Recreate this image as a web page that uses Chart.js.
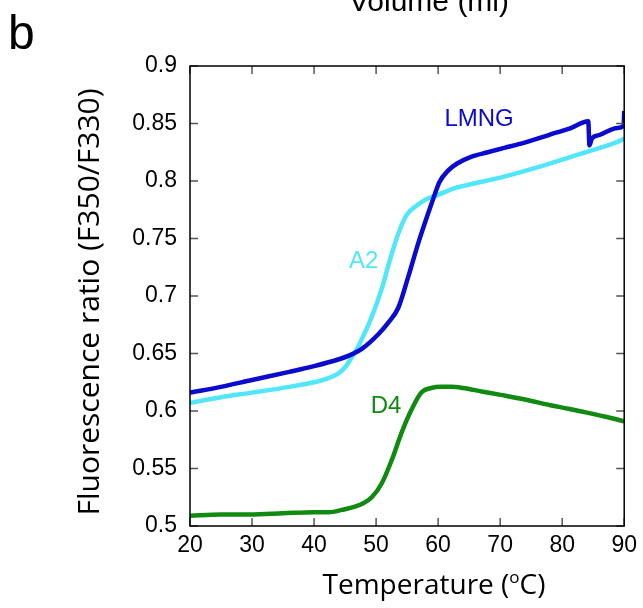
<!DOCTYPE html>
<html>
<head>
<meta charset="utf-8">
<script src="https://cdn.jsdelivr.net/npm/chart.js@4"></script>
<style>
  html, body { margin: 0; padding: 0; background: #fff; }
  canvas { display: block; }
</style>
</head>
<body>
<canvas id="grafico" width="643" height="608"></canvas>
<script>
// temperature (°C) and F350/F330 ratio
const lmngTemp = [20, 25, 30, 36, 40, 44, 46, 47.7, 50.4, 52, 53.6, 55.2, 56.8, 58.4, 59.5, 60.2, 61.6, 63, 65.3, 68, 70.8, 73, 76.1, 79, 81.4, 84.2, 84.4, 84.8, 86, 88.9, 89.9, 90];
const lmngRatio = [0.616, 0.621, 0.627, 0.634, 0.639, 0.645, 0.649, 0.654, 0.667, 0.677, 0.690, 0.717, 0.746, 0.772, 0.789, 0.799, 0.809, 0.815, 0.821, 0.825, 0.829, 0.832, 0.837, 0.842, 0.846, 0.852, 0.831, 0.837, 0.840, 0.846, 0.848, 0.861];

const a2Temp = [20, 25, 30, 36, 40, 42, 44, 45, 46, 47, 48, 49, 50, 51, 52, 53, 54, 55, 56.4, 58, 60, 62.8, 66, 70.8, 76.1, 81.4, 85, 88.9, 90];
const a2Ratio = [0.607, 0.612, 0.616, 0.621, 0.625, 0.628, 0.633, 0.638, 0.646, 0.655, 0.666, 0.678, 0.692, 0.708, 0.727, 0.745, 0.760, 0.771, 0.778, 0.784, 0.788, 0.794, 0.798, 0.804, 0.812, 0.821, 0.827, 0.834, 0.837];

const d4Temp = [20, 25, 29.6, 35, 40, 42.4, 44.5, 46.7, 48, 49.3, 50.9, 52.5, 54.1, 55.7, 57.3, 58.9, 60.5, 62.1, 64, 67, 70.1, 74, 78.1, 81, 83.6, 87, 90];
const d4Ratio = [0.509, 0.510, 0.510, 0.511, 0.512, 0.512, 0.514, 0.517, 0.520, 0.525, 0.537, 0.557, 0.581, 0.601, 0.616, 0.620, 0.621, 0.621, 0.620, 0.617, 0.614, 0.610, 0.605, 0.602, 0.599, 0.595, 0.591];

const seriesNames = ["LMNG", "A2", "D4"];
const seriesColors = ["#0a0ad0", "#52e6fa", "#118a11"];
// where each name is written, in data coordinates
const labelTemp = [66.6, 48.0, 51.6];
const labelRatio = [0.854, 0.730, 0.604];

const xTicks = [20, 30, 40, 50, 60, 70, 80, 90];
const yTicks = [0.5, 0.55, 0.6, 0.65, 0.7, 0.75, 0.8, 0.85, 0.9];

const pts = (t, v) => t.map((x, i) => ({ x: x, y: v[i] }));

// box, inward ticks and all the texts
const marco = {
  id: "marco",
  afterDraw(chart) {
    const { ctx, chartArea: a, scales: { x, y } } = chart;
    ctx.save();

    ctx.strokeStyle = "#555";
    ctx.lineWidth = 1.5;
    ctx.beginPath();
    xTicks.forEach(t => {
      const px = x.getPixelForValue(t);
      ctx.moveTo(px, a.bottom); ctx.lineTo(px, a.bottom - 8);
      ctx.moveTo(px, a.top); ctx.lineTo(px, a.top + 8);
    });
    yTicks.forEach(t => {
      const py = y.getPixelForValue(t);
      ctx.moveTo(a.left, py); ctx.lineTo(a.left + 8, py);
      ctx.moveTo(a.right, py); ctx.lineTo(a.right - 8, py);
    });
    ctx.stroke();

    ctx.strokeStyle = "#000";
    ctx.lineWidth = 1.5;
    ctx.strokeRect(a.left, a.top, a.right - a.left, a.bottom - a.top);

    // series names
    ctx.font = "24px 'Liberation Sans', Arial, sans-serif";
    ctx.textAlign = "center";
    ctx.textBaseline = "middle";
    seriesNames.forEach((n, i) => {
      ctx.fillStyle = seriesColors[i];
      ctx.fillText(n, x.getPixelForValue(labelTemp[i]), y.getPixelForValue(labelRatio[i]));
    });

    ctx.fillStyle = "#000";
    // panel letter
    ctx.textAlign = "left";
    ctx.textBaseline = "alphabetic";
    ctx.font = "48px 'Liberation Sans', Arial, sans-serif";
    ctx.fillText("b", 8, 49);

    // cut-off title of the panel above
    ctx.textAlign = "center";
    ctx.font = "30px 'Liberation Sans', Arial, sans-serif";
    ctx.fillText("Volume (ml)", 429, 11);

    // x title with raised o
    const big = "28px 'Open Sans', sans-serif", small = "17px 'Open Sans', sans-serif";
    ctx.textAlign = "left";
    const p1 = "Temperature (", p3 = "C)";
    ctx.font = big;
    const w1 = ctx.measureText(p1).width;
    const w3 = ctx.measureText(p3).width;
    ctx.font = small;
    const w2 = ctx.measureText("o").width;
    const sx = 434 - (w1 + w2 + w3) / 2;
    ctx.font = big;
    ctx.fillText(p1, sx, 594);
    ctx.font = small;
    ctx.fillText("o", sx + w1, 583);
    ctx.font = big;
    ctx.fillText(p3, sx + w1 + w2, 594);

    // y title
    ctx.translate(90, 302);
    ctx.rotate(-Math.PI / 2);
    ctx.textAlign = "center";
    ctx.textBaseline = "middle";
    ctx.font = "30px 'Open Sans', sans-serif";
    ctx.fillText("Fluorescence ratio (F350/F330)", 0, 0);

    ctx.restore();
  }
};

new Chart(document.getElementById("grafico"), {
  type: "line",
  data: {
    datasets: [
      { label: seriesNames[0], data: pts(lmngTemp, lmngRatio), borderColor: seriesColors[0] },
      { label: seriesNames[1], data: pts(a2Temp, a2Ratio), borderColor: seriesColors[1] },
      { label: seriesNames[2], data: pts(d4Temp, d4Ratio), borderColor: seriesColors[2] }
    ]
  },
  options: {
    responsive: false,
    animation: false,
    events: [],
    layout: { padding: { top: 66, right: 16, left: 0, bottom: 0 } },
    elements: {
      line: { borderWidth: 4.5, cubicInterpolationMode: "monotone", fill: false },
      point: { radius: 0 }
    },
    plugins: { legend: { display: false }, tooltip: { enabled: false } },
    scales: {
      x: {
        type: "linear",
        min: 20, max: 90,
        grid: { display: false, drawTicks: false },
        border: { display: false },
        afterBuildTicks: s => { s.ticks = xTicks.map(v => ({ value: v })); },
        afterFit: s => { s.height = 82; },
        ticks: {
          color: "#000",
          padding: 6,
          maxRotation: 0,
          font: { family: "'Liberation Sans', Arial, sans-serif", size: 23 }
        }
      },
      y: {
        min: 0.5, max: 0.9,
        grid: { display: false, drawTicks: false },
        border: { display: false },
        afterBuildTicks: s => { s.ticks = yTicks.map(v => ({ value: v })); },
        afterFit: s => { s.width = 190; },
        ticks: {
          color: "#000",
          padding: 13,
          font: { family: "'Liberation Sans', Arial, sans-serif", size: 23 },
          callback: v => String(+v.toFixed(2))
        }
      }
    }
  },
  plugins: [marco]
});
</script>
</body>
</html>
